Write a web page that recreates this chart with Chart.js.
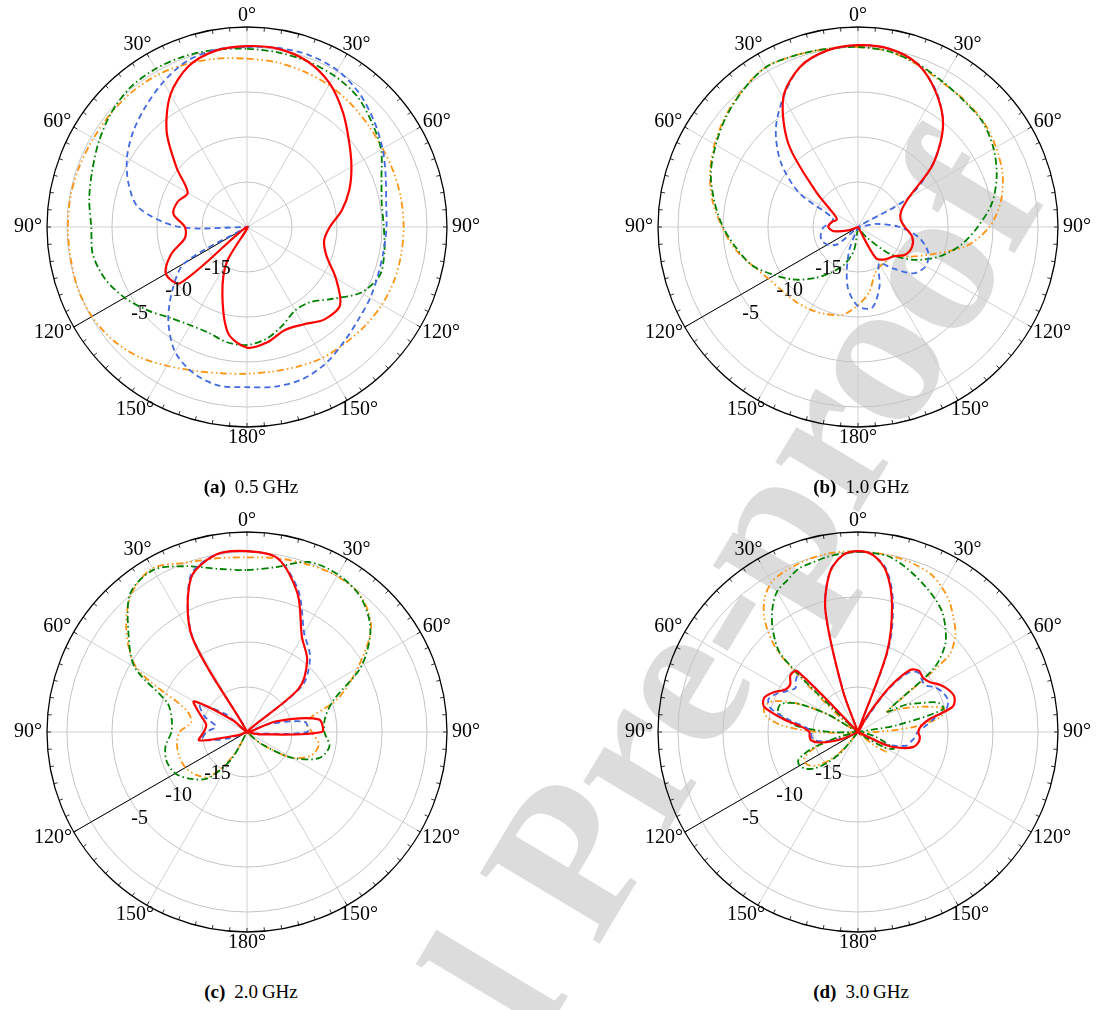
<!DOCTYPE html>
<html>
<head>
<meta charset="utf-8">
<script src="https://cdn.jsdelivr.net/npm/chart.js@4.4.1/dist/chart.umd.min.js"></script>
<style>
body { margin: 0; background: #fff; }
#page { position: relative; width: 1099px; height: 1010px; overflow: hidden; font-family: "Liberation Serif", serif; }
canvas { position: absolute; z-index: 1; }
.cap { position: absolute; width: 220px; text-align: center; font-size: 19px; line-height: 22px; z-index: 2; white-space: nowrap; }
.cap b { margin-right: 9px; }
#wm { position: absolute; left: 54px; top: 1508px; transform-origin: 0 0; transform: rotate(-59deg);
      font: bold 212px "Liberation Serif", serif; color: #dcdcdc; line-height: 1; white-space: nowrap; z-index: 0; }
</style>
</head>
<body>
<div id="page">
  <div id="wm">Journal Pre-proof</div>
  <canvas id="cA" width="480" height="480" style="left:7px;top:-13px"></canvas>
  <canvas id="cB" width="480" height="480" style="left:618px;top:-13px"></canvas>
  <canvas id="cC" width="480" height="480" style="left:7px;top:492px"></canvas>
  <canvas id="cD" width="480" height="480" style="left:618px;top:492px"></canvas>
  <div class="cap" style="left:141px;top:476px"><b>(a)</b>0.5&#8201;GHz</div>
  <div class="cap" style="left:751px;top:476px"><b>(b)</b>1.0&#8201;GHz</div>
  <div class="cap" style="left:141px;top:981px"><b>(c)</b>2.0&#8201;GHz</div>
  <div class="cap" style="left:751px;top:981px"><b>(d)</b>3.0&#8201;GHz</div>
</div>
<script>
// angle categories (degrees, clockwise from top)
const angles10 = [0, 10, 20, 30, 40, 50, 60, 70, 80, 90, 100, 110, 120, 130, 140, 150, 160, 170,
  180, 190, 200, 210, 220, 230, 240, 250, 260, 270, 280, 290, 300, 310, 320, 330, 340, 350];
const angles5 = [0, 5, 10, 15, 20, 25, 30, 35, 40, 45, 50, 55, 60, 65, 70, 75, 80, 85, 90, 95, 100, 105, 110, 115,
  120, 125, 130, 135, 140, 145, 150, 155, 160, 165, 170, 175, 180, 185, 190, 195, 200, 205, 210, 215,
  220, 225, 230, 235, 240, 245, 250, 255, 260, 265, 270, 275, 280, 285, 290, 295, 300, 305, 310, 315,
  320, 325, 330, 335, 340, 345, 350, 355];

// tick labels
const angleTicks = [0, 30, 60, 90, 120, 150, 180, 210, 240, 270, 300, 330];
const radialTicks = [-15, -10, -5];

// (a) 0.5 GHz, dB
const redA = [0.1, 0.1, -0.4, -1.6, -3.4, -5.2, -6.6, -7.9, -9.3, -10.8, -11.3, -10.6,
  -8.6, -6.5, -6.6, -7.5, -7.8, -7.0, -6.6, -8.0, -12.0, -15.5, -20, -10.3,
  -9.6, -11.0, -13.0, -13.1, -11.7, -11.8, -12.4, -9.8, -6.1, -3.0, -1.0, -0.1];
const blueA = [0.0, 0.2, 0.3, 0.1, -0.6, -1.6, -2.6, -3.6, -4.3, -4.5, -4.6, -4.5,
  -4.2, -3.9, -3.3, -2.5, -2.0, -2.0, -2.2, -2.1, -2.7, -4.0, -6.4, -9.2,
  -12.0, -20, -20, -12.5, -7.8, -6.0, -4.6, -3.5, -2.5, -1.4, -0.4, 0.0];
const greenA = [-0.2, -0.3, -0.4, -0.6, -1.0, -1.9, -2.8, -4.1, -4.8, -4.8, -4.5, -4.3,
  -5.4, -7.6, -9.1, -9.3, -8.4, -7.4, -6.9, -7.0, -7.5, -7.4, -6.8, -5.6,
  -4.3, -3.2, -2.6, -2.7, -2.2, -1.7, -1.0, -0.3, 0.2, 0.3, 0.2, 0.0];
const orangeA = [-1.3, -1.4, -1.6, -1.8, -2.1, -2.4, -2.6, -2.6, -2.6, -2.6, -2.6, -2.6,
  -2.7, -2.9, -3.1, -3.2, -3.5, -3.7, -3.7, -3.5, -3.0, -2.2, -1.2, -0.5,
  -0.1, 0.0, -0.1, -0.1, -0.1, -0.2, -0.3, -0.3, -0.3, -0.4, -0.7, -1.0];

// (b) 1.0 GHz
const redB = [0.2, 0.1, -0.7, -2.7, -5.3, -9.1, -13.5, -14.9, -15.2, -14.8, -13.9, -13.6,
  -13.9, -14.9, -15.3, -16.0, -20, -20, -20, -20, -20, -20, -20, -20,
  -20, -19, -17.3, -16.7, -17.0, -17.5, -16.7, -13.9, -8.0, -3.4, -1.1, -0.1];
const blueB = [0.2, 0.1, -0.7, -2.6, -5.3, -9.2, -13.7, -20, -18, -15.4, -13.1, -11.7,
  -11.3, -12.0, -14.0, -15.3, -13.0, -10.9, -11.2, -13.3, -17, -20, -20, -17,
  -16.1, -15.7, -15.8, -16.2, -17.0, -17.0, -12.5, -8.8, -5.8, -3.4, -1.1, -0.1];
const greenB = [0.0, -0.2, -0.7, -1.3, -1.7, -1.9, -2.6, -3.6, -4.9, -6.7, -8.4, -10.4,
  -12.7, -15.3, -18.5, -20, -20, -20, -20, -17.3, -15.6, -14.2, -12.6, -10.9,
  -9.3, -7.5, -6.3, -5.0, -3.8, -2.6, -1.75, -0.9, -0.15, 0.5, 0.3, 0.1];
const orangeB = [0.0, -0.2, -0.8, -1.4, -1.6, -1.8, -2.3, -2.9, -3.9, -5.4, -7.8, -11.2,
  -13.4, -15.0, -15.1, -15.0, -14.5, -12.7, -11.3, -10.1, -9.7, -9.4, -9.2, -9.0,
  -8.5, -7.5, -6.1, -4.9, -3.6, -2.5, -1.6, -0.8, -0.1, 0.5, 0.3, 0.1];

// (c) 2.0 GHz
const redC = [0.1, -0.4, -3.6, -7.8, -9.6, -12.5, -20, -16.5, -11.9, -11.7, -18.5, -20,
  -20, -20, -20, -20, -20, -20, -20, -20, -20, -20, -20, -20,
  -20, -19, -14.6, -15.2, -15.4, -14.5, -13.2, -18, -20, -7.8, -1.8, 0.0];
const blueC = [0.1, -0.4, -3.3, -7.3, -9.1, -12.0, -20, -17.5, -13.5, -13.3, -19, -20,
  -20, -20, -20, -20, -20, -20, -20, -20, -20, -20, -20, -20,
  -20, -18, -15, -15.5, -16.5, -15.0, -14.0, -17, -20, -8.0, -1.6, 0.0];
const greenC = [-2.0, -1.4, 0.1, 0.2, -0.4, -2.1, -5.3, -9.8, -11.2, -11.4, -10.7, -11.5,
  -14.3, -18, -20, -20, -20, -20, -20, -20, -20, -16.5, -13.3, -11.9,
  -10.8, -10.5, -10.8, -11.6, -11.5, -10.6, -5.6, -2.8, 0.15, 0.8, -0.4, -1.6];
const orangeC = [-0.6, -0.4, -0.2, 0.0, -0.3, -2.0, -5.8, -9.3, -13.3, -12.8, -11.9, -12.4,
  -14.3, -18, -20, -20, -20, -20, -20, -20, -20, -17, -13.5, -12.6,
  -12.1, -12.0, -12.1, -12.5, -13.7, -12.8, -5.9, -2.5, 0.0, 1.0, 0.0, -0.4];

// (d) 3.0 GHz, 5 degree steps
const redD = [0.1, -0.3, -1.9, -5.4, -10.6, -20, -18, -14, -11, -10.4, -10.6, -10.3,
  -9.5, -8.9, -8.6, -9.1, -12.0, -13.0, -13.3, -13.1, -13.2, -13.6, -14.8, -16.5,
  -20, -20, -20, -20, -20, -20, -20, -20, -20, -20, -20, -20,
  -20, -20, -20, -20, -20, -20, -20, -20, -20, -20, -20, -20,
  -20, -18.5, -17, -15.5, -14.7, -14.6, -14.6, -13.8, -11.5, -9.2, -8.9, -9.6,
  -10.6, -10.8, -10.2, -10.4, -20, -20, -20, -20, -15, -6.0, -2.0, -0.3];
const blueD = [0.1, -0.3, -1.7, -5.0, -10.0, -20, -19, -14.5, -11.5, -10.6, -10.8, -10.9,
  -10.1, -9.6, -9.4, -9.8, -11.4, -12.5, -13.4, -13.6, -14.0, -14.3, -15.5, -17,
  -20, -20, -20, -20, -20, -20, -20, -20, -20, -20, -20, -20,
  -20, -20, -20, -20, -20, -20, -20, -20, -20, -20, -20, -20,
  -20, -19, -17.5, -16, -15, -14.8, -14.8, -14.2, -12.2, -10.0, -9.4, -10.0,
  -10.9, -11.5, -11.0, -10.8, -20, -20, -20, -20, -15, -6.0, -1.9, -0.3];
const greenD = [0.0, -0.05, -0.2, -0.8, -1.5, -2.2, -2.9, -3.7, -4.9, -6.3, -9.0, -16,
  -14, -12.4, -10.5, -10.2, -15.6, -20, -20, -20, -19, -18, -17, -15.6,
  -16.5, -19, -20, -20, -20, -20, -20, -20, -20, -20, -20, -20,
  -20, -20, -20, -20, -20, -20, -20, -20, -17, -15.2, -13.7, -12.9,
  -12.5, -12.7, -14.5, -17.5, -20, -20, -17, -13.5, -11.7, -10.8, -10.9, -12.5,
  -16, -20, -19, -8.0, -5.3, -3.4, -2.0, -1.4, -0.7, -0.5, -0.25, -0.1];
const orangeD = [0.1, 0.0, -0.1, -0.2, -0.4, -0.7, -1.4, -2.3, -3.5, -4.7, -6.9, -16,
  -15, -13.5, -11.8, -10.1, -10.8, -14, -18, -20, -20, -20, -20, -18,
  -16.5, -16.2, -18, -20, -20, -20, -20, -20, -20, -20, -20, -20,
  -20, -20, -20, -20, -20, -20, -20, -20, -17.5, -15.7, -14.3, -13.5,
  -13.2, -13.5, -15, -18, -20, -19, -15.5, -11.5, -9.6, -9.2, -10.0, -12.5,
  -16, -20, -17, -7.6, -3.9, -1.9, -0.8, -0.4, -0.2, 0.0, 0.1, 0.1];

const styles = [
  { color: '#ff0000', width: 2.2, dash: [] },
  { color: '#4169e1', width: 1.8, dash: [6, 4] },
  { color: '#008000', width: 1.8, dash: [7, 3, 1.5, 3] },
  { color: '#fb9313', width: 1.8, dash: [7, 3, 1.5, 3, 1.5, 3] }
];

// position at compass angle deg (clockwise from top), distance d from the scale centre
function pt(s, deg, d) {
  const rad = deg * Math.PI / 180;
  return { x: s.xCenter + d * Math.sin(rad), y: s.yCenter - d * Math.cos(rad) };
}

const polarFrame = {
  id: 'polarFrame',
  beforeDatasetsDraw(chart) {
    const s = chart.scales.r, ctx = chart.ctx;
    const p = pt(s, 240, s.drawingArea);
    ctx.save();
    ctx.strokeStyle = '#000';
    ctx.lineWidth = 1;
    ctx.beginPath();
    ctx.moveTo(s.xCenter, s.yCenter);
    ctx.lineTo(p.x, p.y);
    ctx.stroke();
    ctx.restore();
  },
  afterDraw(chart) {
    const s = chart.scales.r, ctx = chart.ctx, R = s.drawingArea;
    ctx.save();
    ctx.strokeStyle = '#000';
    ctx.lineWidth = 1.3;
    ctx.beginPath();
    ctx.arc(s.xCenter, s.yCenter, R, 0, 2 * Math.PI);
    ctx.stroke();
    ctx.lineWidth = 0.8;
    for (let a = 0; a < 360; a += 5) {
      const p1 = pt(s, a, R), p2 = pt(s, a, R - 4);
      ctx.beginPath();
      ctx.moveTo(p1.x, p1.y);
      ctx.lineTo(p2.x, p2.y);
      ctx.stroke();
    }
    ctx.fillStyle = '#000';
    ctx.font = '20px "Liberation Serif", serif';
    ctx.textAlign = 'center';
    ctx.textBaseline = 'middle';
    angleTicks.forEach(a => {
      const txt = (a <= 180 ? a : 360 - a) + '°';
      const w = ctx.measureText(txt).width;
      const rad = a * Math.PI / 180;
      const p = pt(s, a, R + 5);
      ctx.fillText(txt, p.x + Math.sin(rad) * w / 2, p.y - Math.cos(rad) * 6);
    });
    radialTicks.forEach(v => {
      const p = pt(s, 240, s.getDistanceFromCenterForValue(v));
      ctx.fillText(String(v), p.x + 9.5, p.y + 19);
    });
    ctx.restore();
  }
};

function makePolar(id, labels, series) {
  new Chart(document.getElementById(id), {
    type: 'radar',
    data: {
      labels: labels,
      datasets: series.map((d, i) => ({
        data: d,
        borderColor: styles[i].color,
        borderWidth: styles[i].width,
        borderDash: styles[i].dash,
        fill: false,
        pointRadius: 0,
        tension: 0.3
      }))
    },
    options: {
      responsive: false,
      animation: false,
      layout: { padding: 40 },
      plugins: { legend: { display: false }, tooltip: { enabled: false } },
      scales: {
        r: {
          min: -20,
          max: 2.22,
          startAngle: 0,
          ticks: { display: false, stepSize: 5, includeBounds: false },
          grid: {
            circular: true,
            color: ctx => ctx.tick.value <= -20 ? 'rgba(0,0,0,0)' : '#c4c4c4',
            lineWidth: 1
          },
          angleLines: {
            color: '#cccccc',
            lineWidth: ctx => ctx.chart.data.labels[ctx.index] % 30 === 0 ? 0.9 : 0
          },
          pointLabels: { display: false }
        }
      }
    },
    plugins: [polarFrame]
  });
}

makePolar('cA', angles10, [redA, blueA, greenA, orangeA]);
makePolar('cB', angles10, [redB, blueB, greenB, orangeB]);
makePolar('cC', angles10, [redC, blueC, greenC, orangeC]);
makePolar('cD', angles5, [redD, blueD, greenD, orangeD]);
</script>
</body>
</html>
